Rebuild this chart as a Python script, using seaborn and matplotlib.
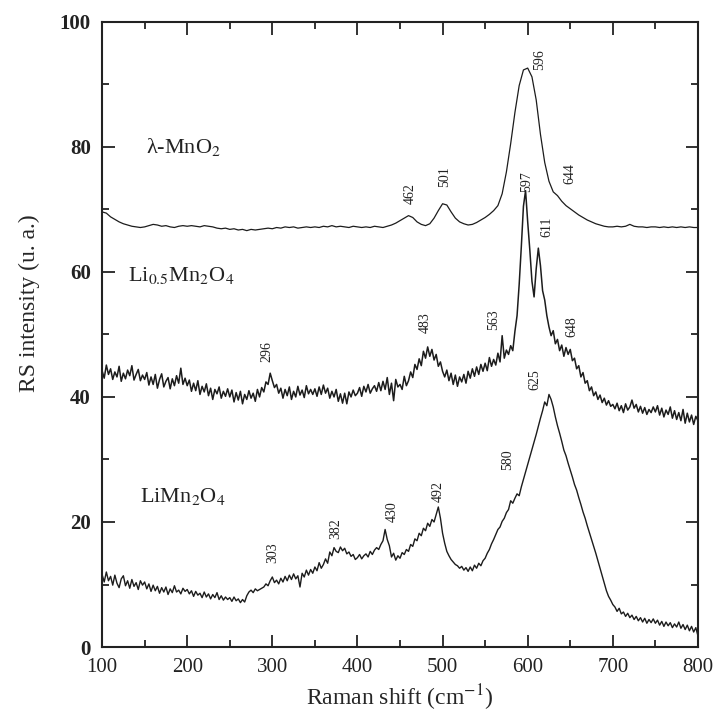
import numpy as np
import pandas as pd
import matplotlib
matplotlib.use("Agg")
import matplotlib.pyplot as plt
from matplotlib.ticker import MultipleLocator
import seaborn as sns

# Raman shift grids (cm-1)
shift_coarse = np.arange(100, 801, 5)
shift_fine = np.arange(100, 800.1, 2.5)

# lambda-MnO2 (top trace, 5 cm-1 steps)
mno2 = [
    69.6, 69.4, 68.8, 68.4, 68.0, 67.7, 67.5, 67.3, 67.2, 67.1,
    67.2, 67.4, 67.6, 67.5, 67.3, 67.4, 67.2, 67.1, 67.3, 67.4,
    67.3, 67.4, 67.3, 67.2, 67.4, 67.3, 67.2, 67.0, 66.9, 67.0,
    66.8, 66.9, 66.7, 66.8, 66.6, 66.8, 66.7, 66.8, 66.9, 67.0,
    66.9, 67.1, 67.0, 67.2, 67.1, 67.2, 67.0, 67.1, 67.2, 67.1,
    67.2, 67.1, 67.3, 67.2, 67.4, 67.2, 67.3, 67.2, 67.1, 67.3,
    67.2, 67.1, 67.2, 67.1, 67.3, 67.2, 67.1, 67.3, 67.5, 67.8,
    68.2, 68.6, 69.0, 68.7, 68.0, 67.6, 67.4, 67.7, 68.6, 69.8,
    70.9, 70.7, 69.6, 68.6, 68.0, 67.7, 67.5, 67.6, 67.9, 68.3,
    68.7, 69.2, 69.8, 70.6, 72.5, 76.0, 80.5, 85.5, 89.8, 92.3,
    92.6, 91.2, 87.5, 82.0, 77.5, 74.5, 72.8, 72.2, 71.3, 70.6,
    70.1, 69.6, 69.1, 68.7, 68.3, 68.0, 67.7, 67.5, 67.3, 67.2,
    67.2, 67.3, 67.2, 67.3, 67.6, 67.3, 67.2, 67.2, 67.1, 67.2,
    67.2, 67.1, 67.2, 67.1, 67.2, 67.1, 67.2, 67.1, 67.2, 67.1,
    67.1,
]

# Li0.5Mn2O4 (middle trace, 2.5 cm-1 steps)
li05 = [
    44.2, 43.0, 45.1, 43.6, 44.5, 42.8, 44.0, 43.2, 44.9, 42.5, 43.8, 42.9, 44.3, 43.4, 45.0, 42.7, 43.6, 44.4, 42.6, 43.5,
    42.8, 43.9, 41.9, 43.2, 42.0, 43.6, 41.4, 42.8, 43.7, 41.6, 42.5, 43.1, 41.3, 42.9, 41.8, 43.4, 42.2, 44.6, 42.0, 43.0,
    41.8, 42.7, 40.9, 42.2, 41.0, 42.6, 40.4, 41.7, 40.8, 42.1, 40.2, 41.4, 39.6, 41.2, 40.5, 41.6, 39.8, 40.9, 40.1, 41.3,
    40.0, 41.1, 39.2, 40.7, 39.5, 40.9, 38.9, 40.4, 39.6, 41.0, 39.8, 40.6, 39.3, 41.2, 40.0, 41.5, 40.8, 42.4, 42.0, 43.8,
    42.6, 41.5, 42.0, 40.6, 41.4, 39.8, 41.2, 40.2, 41.6, 39.6, 40.9, 40.0, 41.7, 40.3, 41.1, 39.9, 41.8, 40.5, 41.2, 40.4,
    41.3, 40.1, 41.6, 40.4, 41.9, 40.6, 41.4, 39.8, 40.9, 40.0, 41.2, 39.3, 40.5, 39.0, 40.6, 38.9, 40.8, 40.0, 41.1, 40.2,
    40.6, 41.5, 40.1, 41.7, 40.8, 42.0, 40.6, 41.3, 41.8, 40.9, 42.3, 41.0, 42.5, 41.2, 43.1, 40.4, 42.2, 39.4, 42.8, 41.6,
    42.0, 41.2, 43.3, 41.8, 42.6, 44.0, 43.1, 45.2, 44.4, 46.1, 45.0, 47.3, 46.2, 48.0, 46.5, 47.6, 45.9, 46.8, 44.9, 45.6,
    44.1, 43.2, 44.3, 42.6, 43.8, 42.0, 43.5, 41.7, 43.2, 42.4, 43.6, 42.2, 44.1, 43.0, 44.5, 43.3, 44.8, 43.6, 45.2, 44.1,
    45.4, 44.2, 46.3, 44.9, 46.0, 45.1, 47.0, 45.6, 49.8, 46.2, 47.5, 46.8, 48.2, 47.4, 50.5, 53.0, 58.0, 64.0, 70.5, 73.0,
    68.0, 63.5, 58.5, 56.0, 60.5, 63.8, 61.0, 57.0, 55.5, 53.0, 51.2, 49.8, 50.6, 48.5, 49.2, 47.4, 48.3, 46.5, 47.9, 46.8,
    47.6, 45.8, 46.2, 44.5, 45.0, 43.2, 43.9, 42.2, 42.6, 41.0, 41.6, 40.2, 40.8, 39.6, 40.3, 39.1, 39.8, 38.7, 39.4, 38.5,
    38.8, 38.1, 39.0, 37.8, 38.6, 37.5, 38.9, 37.9, 38.4, 39.5, 38.2, 38.8, 37.6, 38.5, 37.4, 38.3, 37.2, 38.0, 37.5, 38.4,
    37.6, 38.6, 37.1, 38.2, 36.8, 37.9, 37.2, 38.4, 36.6, 37.8, 36.4, 37.5, 36.2, 38.0, 35.8, 37.4, 36.0, 37.1, 35.6, 36.9,
    36.2,
]

# LiMn2O4 (bottom trace, 2.5 cm-1 steps)
limn = [
    11.6, 10.4, 12.0, 10.6, 11.3, 9.9, 11.5, 10.2, 9.5, 10.9, 11.4, 9.8, 10.6, 9.4, 10.8, 9.7, 10.3, 9.2, 10.6, 9.9,
    10.4, 9.3, 10.1, 8.9, 9.9, 9.0, 9.7, 8.6, 9.5, 8.8, 9.6, 8.4, 9.3, 8.7, 9.8, 8.8, 9.1, 8.5, 9.4, 8.9,
    9.2, 8.5, 9.0, 8.1, 8.9, 8.3, 8.6, 7.9, 8.8, 8.0, 8.5, 7.7, 8.4, 7.9, 8.7, 7.6, 8.2, 7.5, 8.0, 7.6,
    7.9, 7.3, 8.0, 7.4, 7.7, 7.1, 7.6, 7.2, 8.2, 8.8, 9.1, 8.7, 9.3, 9.0, 9.2, 9.4, 9.6, 10.1, 9.8, 10.6,
    11.2, 10.3, 10.7, 10.1, 11.0, 10.4, 11.3, 10.6, 11.5, 10.8, 11.7, 10.9, 11.4, 9.6, 11.8, 11.2, 12.3, 11.5, 12.4, 11.8,
    12.8, 12.2, 13.5, 12.6, 13.2, 14.1, 13.4, 15.2, 14.6, 15.9, 15.3, 15.1, 16.0, 15.4, 15.8, 14.9, 15.2, 14.5, 14.8, 14.0,
    14.3, 14.8, 14.1, 14.6, 14.9, 14.4, 15.3, 14.8, 15.5, 15.9, 15.6, 16.4, 17.0, 18.8, 17.2, 16.2, 14.4, 15.0, 13.9, 14.6,
    14.2, 15.1, 14.8, 15.6, 15.3, 16.4, 16.1, 17.3, 17.0, 18.2, 17.8, 19.0, 18.6, 19.8, 19.3, 20.4, 20.0, 21.2, 22.4, 20.6,
    18.2, 16.6, 15.3, 14.6, 14.0, 13.6, 13.2, 13.0, 12.6, 12.9, 12.3, 12.7, 12.1, 12.8, 12.2, 13.1, 12.6, 13.4, 13.0, 13.8,
    14.2, 15.0, 15.6, 16.5, 17.2, 18.0, 18.8, 19.2, 20.1, 20.6, 21.5, 22.0, 23.4, 23.0, 23.8, 24.5, 24.2, 25.6, 26.8, 28.0,
    29.2, 30.4, 31.6, 32.8, 34.0, 35.3, 36.6, 37.8, 39.2, 38.6, 40.4, 39.6, 38.4, 36.8, 35.4, 34.2, 32.9, 31.5, 30.6, 29.4,
    28.3, 27.2, 26.0, 25.1, 23.9, 22.8, 21.6, 20.6, 19.4, 18.3, 17.2, 16.1, 15.0, 13.8, 12.6, 11.4, 10.2, 9.0, 8.1, 7.5,
    6.8, 6.4, 5.7, 6.2, 5.3, 5.6, 4.9, 5.4, 4.7, 5.1, 4.4, 4.9, 4.2, 4.7, 4.0, 4.6, 3.8, 4.4, 3.9, 4.5,
    3.8, 4.3, 3.5, 4.1, 3.3, 4.0, 3.4, 3.9, 3.1, 3.7, 3.2, 4.0, 3.0, 3.6, 2.8, 3.5, 2.6, 3.3, 2.4, 3.1,
    1.8,
]

series_names = ["λ-MnO$_2$", "Li$_{0.5}$Mn$_2$O$_4$", "LiMn$_2$O$_4$"]
name_pos = [(152, 80.0), (131, 59.5), (145, 24.0)]

peak_labels = ["462", "501", "596", "644",
               "296", "483", "563", "597", "611", "648",
               "303", "382", "430", "492", "580", "625"]
peak_x = [462, 503, 614, 649,
          294, 480, 560, 599, 622, 652,
          301, 374, 441, 495, 577, 609]
peak_y = [72.6, 75.2, 94.0, 75.8,
          47.2, 51.9, 52.3, 74.4, 67.2, 51.2,
          15.1, 19.0, 21.7, 24.8, 29.9, 42.7]

df = pd.DataFrame({
    "shift": np.concatenate([shift_coarse, shift_fine, shift_fine]),
    "intensity": mno2 + li05 + limn,
    "sample": ["a"] * len(shift_coarse) + ["b"] * len(shift_fine) + ["c"] * len(shift_fine),
})

sns.set_style("ticks")
plt.rcParams["font.family"] = ["Liberation Serif", "DejaVu Serif"]
plt.rcParams["mathtext.fontset"] = "stix"

fig = plt.figure(figsize=(7.24, 7.27), dpi=100)
ax = fig.add_axes([0.141, 0.110, 0.823, 0.860])

line_w = {"a": 0.9, "b": 1.1, "c": 1.0}
for key, sub in df.groupby("sample"):
    sns.lineplot(data=sub, x="shift", y="intensity", ax=ax, color="#1c1c1c",
                 linewidth=line_w[key], legend=False)

for name, (tx, ty) in zip(series_names, name_pos):
    ax.text(tx, ty, name, fontsize=16, color="#222222", va="center", ha="left")

for lab, px, py in zip(peak_labels, peak_x, peak_y):
    ax.text(px, py, lab, fontsize=10, rotation=90, ha="center", va="center",
            color="#222222")

ax.set_xlim(100, 800)
ax.set_ylim(0, 100)
ax.xaxis.set_major_locator(MultipleLocator(100))
ax.xaxis.set_minor_locator(MultipleLocator(50))
ax.yaxis.set_major_locator(MultipleLocator(20))
ax.yaxis.set_minor_locator(MultipleLocator(10))
ax.tick_params(which="both", direction="in", top=True, right=True, width=1.3,
               colors="#222222")
ax.tick_params(which="major", length=9)
ax.tick_params(which="minor", length=5)
ax.tick_params(axis="x", labelsize=15, pad=8)
ax.tick_params(axis="y", labelsize=15, pad=8)
for lbl in ax.get_yticklabels():
    lbl.set_fontweight("bold")
for sp in ax.spines.values():
    sp.set_linewidth(1.5)
    sp.set_color("#222222")

ax.set_xlabel(r"Raman shift (cm$^{-1}$)", fontsize=17, labelpad=4)
ax.set_ylabel("RS intensity (u. a.)", fontsize=17, labelpad=6)
ax.yaxis.set_label_coords(-0.105, 0.55)

fig.savefig("out.png", dpi=100)
